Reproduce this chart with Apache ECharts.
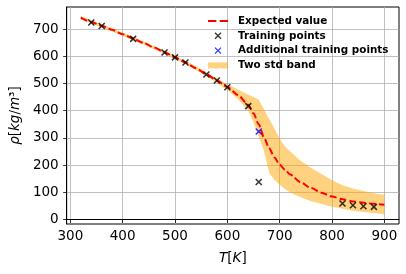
<!DOCTYPE html>
<html>
<head>
<meta charset="utf-8">
<script src="https://cdn.jsdelivr.net/npm/echarts@6/dist/echarts.min.js"></script>
<style>html,body{margin:0;padding:0;background:#fff}#c{width:406px;height:274px}</style>
</head>
<body>
<div id="c"></div>
<script>
// ---- data ----
var meanT = [320,340,360,380,400,420,440,460,480,500,520,540,560,580,600,620,640,650,660,670,680,690,700,710,720,740,760,780,800,820,840,860,880,900];
var meanRho = [742,726,712,697,681,665,649,632,615,596,577,556,534,511,487,458,422,390,350,302,262,228,202,183,166,137,116,99,85,75,67,62,58,55];
var bandUpper = [748,732,718,703,687,671,655,638,621,602,583,563,541,519,497,478,459,450,440,405,370,335,297,270,250,216,190,168,145,126,114,105,97,91];
var bandLower = [736,720,706,691,675,659,643,626,609,590,571,550,527,503,476,443,400,358,305,252,172,146,128,113,100,82,68,57,47,40,33,28,24,20];
var trainT = [340,360,420,480,500,520,560,580,600,640,660,820,840,860,880];
var trainRho = [724,711,664,614,596,577,533,511,486,417,138,59,53,49,47];
var addT = [660];
var addRho = [324];
var xTicks = [300,400,500,600,700,800,900];
var yTicks = [0,100,200,300,400,500,600,700];

var xPath = 'path://M0,0L10,10M10,0L0,10';
var dashPath = 'path://M0,0H7.5V2H0Z M10.5,0H18V2H10.5Z';
var bandIcon = 'path://M0,0H20V8H0Z';
var bandColor = 'rgba(255,165,0,0.5)';
var font = 'DejaVu Sans';

function pairs(a, b){ return a.map(function(v,i){ return [v, b[i]]; }); }

var chart = echarts.init(document.getElementById('c'), null, {renderer:'canvas'});
var axisCommon = {
  type: 'value',
  axisLine: {show: true, lineStyle: {color: '#000', width: 1}},
  axisTick: {show: true, length: 3.5, lineStyle: {color: '#000', width: 0.8}},
  splitLine: {show: true, lineStyle: {color: '#b0b0b0', width: 0.8}},
  nameTextStyle: {
    fontFamily: font, fontSize: 13.5, color: '#000',
    rich: {
      i: {fontFamily: font, fontSize: 13.5, fontStyle: 'italic', color: '#000'},
      r: {fontFamily: font, fontSize: 13.5, color: '#000'}
    }
  }
};
var option = {
  animation: false,
  grid: {left: 65.5, right: 7, top: 7, bottom: 50, show: true, borderColor: '#000', borderWidth: 1, backgroundColor: 'transparent'},
  xAxis: echarts.util.merge({
    min: 293, max: 928,
    axisTick: {customValues: xTicks},
    axisLabel: {customValues: xTicks, fontFamily: font, fontSize: 13.5, color: '#000', margin: 5},
    splitLine: {customValues: xTicks},
    name: '{i|T}{r|[}{i|K}{r|]}',
    nameLocation: 'middle', nameGap: 27
  }, axisCommon),
  yAxis: echarts.util.merge({
    min: -16, max: 781,
    axisTick: {customValues: yTicks},
    axisLabel: {customValues: yTicks, fontFamily: font, fontSize: 13.5, color: '#000', margin: 8},
    splitLine: {customValues: yTicks},
    name: '{i|ρ}{r|[}{i|kg}{r|/}{i|m}{r|³]}',
    nameLocation: 'middle', nameGap: 42, nameRotate: 90
  }, axisCommon),
  legend: {
    orient: 'vertical', left: 208, top: 15, padding: 0,
    itemWidth: 20, itemHeight: 6, itemGap: 2.8,
    textStyle: {fontFamily: font, fontWeight: 'bold', fontSize: 10.4, color: '#000', lineHeight: 12, padding: [0,0,0,5]},
    data: [
      {name: 'Expected value', icon: dashPath, itemStyle: {color: '#ff0000', borderWidth: 0}},
      {name: 'Training points', icon: xPath, itemStyle: {color: 'transparent', borderColor: '#000', borderWidth: 1.3}},
      {name: 'Additional training points', icon: xPath, itemStyle: {color: 'transparent', borderColor: '#0000ff', borderWidth: 1.3}},
      {name: 'Two std band', icon: bandIcon, symbolKeepAspect: false, itemStyle: {color: bandColor, borderWidth: 0}}
    ]
  },
  series: [
    {
      name: 'Two std band', type: 'custom', z: 1, clip: true,
      itemStyle: {color: bandColor},
      data: meanT.map(function(t,i){ return [t, bandLower[i], bandUpper[i]]; }),
      encode: {x: 0, y: [1,2]},
      renderItem: function(params, api){
        if (params.dataIndex !== 0) return null;
        var pts = [];
        for (var i = 0; i < meanT.length; i++) pts.push(api.coord([meanT[i], bandUpper[i]]));
        for (var j = meanT.length - 1; j >= 0; j--) pts.push(api.coord([meanT[j], bandLower[j]]));
        return {type: 'polygon', shape: {points: pts}, style: {fill: bandColor}};
      }
    },
    {
      name: 'Expected value', type: 'line', z: 2, symbol: 'none',
      smooth: 0.25, smoothMonotone: 'x',
      lineStyle: {color: '#ff0000', width: 2, type: [7,3]},
      itemStyle: {color: '#ff0000'},
      data: pairs(meanT, meanRho)
    },
    {
      name: 'Training points', type: 'scatter', z: 3, symbol: xPath, symbolSize: 6,
      itemStyle: {color: 'transparent', borderColor: '#000', borderWidth: 1.5},
      data: pairs(trainT, trainRho)
    },
    {
      name: 'Additional training points', type: 'scatter', z: 3, symbol: xPath, symbolSize: 6,
      itemStyle: {color: 'transparent', borderColor: '#0000ff', borderWidth: 1.5},
      data: pairs(addT, addRho)
    }
  ]
};
chart.setOption(option);
</script>
</body>
</html>
